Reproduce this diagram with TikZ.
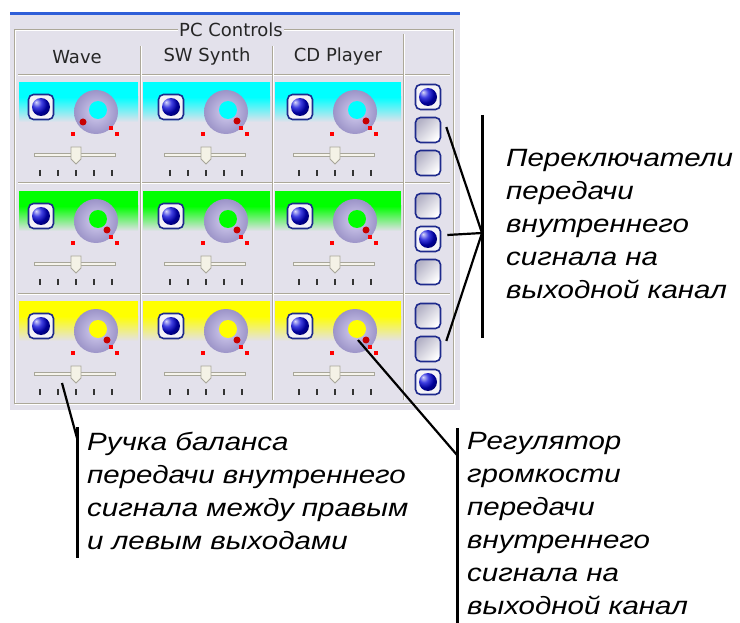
\documentclass[tikz,border=0pt]{standalone}
\usepackage{fontspec}
\newfontfamily\uifont{DejaVu Sans}
\newfontfamily\notefont[FakeStretch=1.18]{Liberation Sans}
\definecolor{panelbg}{HTML}{E3E1EB}
\definecolor{xpblue}{HTML}{2F5FD8}
\definecolor{etch}{HTML}{ACA899}
\definecolor{rim}{HTML}{1E2A8C}
\definecolor{knobcol}{HTML}{9C94C8}
\definecolor{knoblight}{HTML}{D4CEF0}
\definecolor{btngray}{HTML}{B4B2C6}
\definecolor{sliderrim}{HTML}{A8A69A}
\definecolor{trackcol}{HTML}{F6F4EC}
\definecolor{thumbcol}{HTML}{F4F2E6}
\definecolor{dotred}{HTML}{C80000}
\definecolor{rowcyan}{HTML}{00FFFF}
\definecolor{rowgreen}{HTML}{00FF00}
\definecolor{rowyellow}{HTML}{FFFF00}
\tikzset{
  etched/.style={draw=etch,line width=1pt},
  etchhi/.style={draw=white,line width=1pt},
  hdr/.style={font=\uifont\fontsize{18}{20}\selectfont,text=black!85,inner sep=1pt},
  onbtn/.style={rectangle,rounded corners=5pt,minimum size=25pt,inner sep=0pt,draw=rim,line width=1.6pt,fill=white!60!panelbg,
    path picture={\shade[ball color=blue!85!black] (path picture bounding box.center) circle (9pt);}},
  offbtn/.style={rectangle,rounded corners=5pt,minimum size=25pt,inner sep=0pt,draw=rim,line width=1.6pt,
    left color=btngray,right color=white,shading angle=45},
  tickmark/.style={line width=1.3pt,black!80},
  leadline/.style={line width=2.2pt,black},
  leadbar/.style={line width=3pt,black},
  notetxt/.style={font=\notefont\itshape\fontsize{25}{33}\selectfont,align=left,inner sep=0pt,anchor=north west}
}
\begin{document}
\begin{tikzpicture}[x=1pt,y=-1pt]
\useasboundingbox (0,0) rectangle (740,623);
\fill[xpblue] (10,12) rectangle (460,15);
\fill[panelbg] (10,15) rectangle (460,410);
% group box and grid
\draw[etchhi] (15,31) rectangle (454,404);
\draw[etched] (14,30) rectangle (453,403);
\foreach \y in {75,183,294} {
  \draw[etched] (18,\y) -- (450,\y);
  \draw[etchhi] (18,\y+1) -- (450,\y+1);
}
\foreach \x/\y in {140/46,272/46,403/34} {
  \draw[etched] (\x,\y) -- (\x,400);
  \draw[etchhi] (\x+1,\y) -- (\x+1,400);
}
\node[hdr,fill=panelbg] (title) at (231,30) {PC Controls};
\node[hdr] (hWave) at (77,57) {Wave};
\node[hdr] (hSynth) at (207,57) {SW Synth};
\node[hdr] (hCD) at (338,57) {CD Player};
% cells
\foreach \r/\rc [count=\ri] in {75/rowcyan,184/rowgreen,294/rowyellow} {
  \foreach \c/\bl/\br [count=\ci] in {76/19/138,206/143/270,335/275/401} {
    \fill[\rc] (\bl,\r+7) rectangle (\br,\r+22);
    \shade[top color=\rc,bottom color=panelbg] (\bl,\r+22) rectangle (\br,\r+47);
    \node[onbtn] (led-\ri-\ci) at (\c-35,\r+32) {};
    \coordinate (knob-\ri-\ci) at (\c+20,\r+37);
    \shade[inner color=knoblight,outer color=knobcol] (knob-\ri-\ci) circle (22pt);
    \fill[\rc] ([shift={(2,-2)}]knob-\ri-\ci) circle (9pt);
    \ifnum\ri\ci=11 \def\dx{-13}\def\dy{10}\else\def\dx{11}\def\dy{9}\fi
    \fill[dotred] ([shift={(\dx,\dy)}]knob-\ri-\ci) circle (3.5pt);
    \foreach \p/\q in {-23/22,15/16,21/22}
      \fill[red] ([shift={(\p-2,\q-2)}]knob-\ri-\ci) rectangle ++(4,4);
    \coordinate (sl-\ri-\ci) at (\c,\r+80);
    \draw[line width=4.5pt,sliderrim] (\c-42,\r+80) -- (\c+40,\r+80);
    \draw[line width=2.5pt,trackcol] (\c-41,\r+80) -- (\c+39,\r+80);
    \filldraw[fill=thumbcol,draw=sliderrim,line width=0.8pt] ([shift={(-5,-8)}]sl-\ri-\ci)
      -- ++(10,0) -- ++(0,12) -- ++(-5,5) -- ++(-5,-5) -- cycle;
    \foreach \t in {-36,-18,0,18,36}
      \draw[tickmark] (\c+\t,\r+95) -- ++(0,6);
  }
  \foreach \k/\dd in {1/22,2/55,3/88} {
    \def\st{offbtn}\ifnum\k=\ri\def\st{onbtn}\fi
    \node[\st] (sw-\ri-\k) at (428,\r+\dd) {};
  }
}
% notes
\coordinate (brTop) at (482,115);
\coordinate (brMid) at (482,233);
\coordinate (brBot) at (482,338);
\draw[leadbar] (brTop) -- (brBot);
\draw[leadline] ([shift={(5,-3)}]sw-1-2.east) -- (brMid);
\draw[leadline] ([shift={(6,-4)}]sw-2-2.east) -- (brMid);
\draw[leadline] ([shift={(5,-8)}]sw-3-2.east) -- (brMid);
\node[notetxt] (swNote) at (506,149) {Переключатели\\передачи\\внутреннего\\сигнала на\\выходной канал};
\coordinate (balTop) at (77,427);
\coordinate (balJoin) at (77,438);
\coordinate (balBot) at (77,558);
\draw[leadbar] (balTop) -- (balBot);
\draw[leadline] ([shift={(-14,9)}]sl-3-1) -- (balJoin);
\node[notetxt] (balNote) at (87,432) {Ручка баланса\\передачи внутреннего\\сигнала между правым\\и левым выходами};
\coordinate (volTop) at (457,428);
\coordinate (volJoin) at (457,455);
\coordinate (volBot) at (457,630);
\draw[leadbar] (volTop) -- (volBot);
\draw[leadline] ([shift={(3,9)}]knob-3-3) -- (volJoin);
\node[notetxt] (volNote) at (467,432) {Регулятор\\громкости\\передачи\\внутреннего\\сигнала на\\выходной канал};
\end{tikzpicture}
\end{document}
